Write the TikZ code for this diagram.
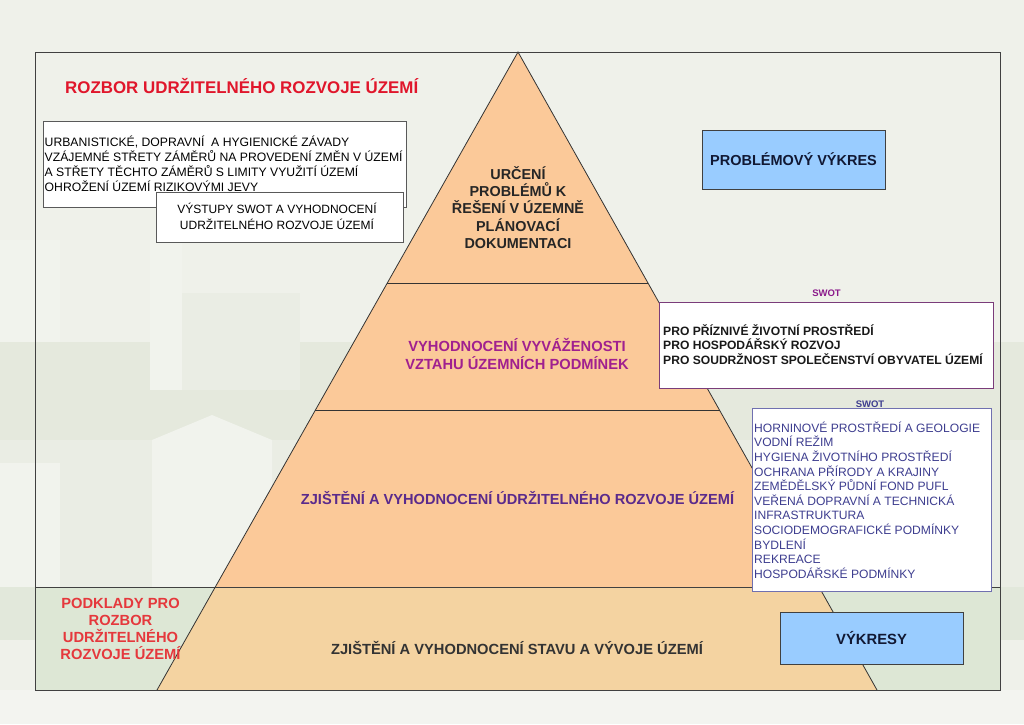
\documentclass[tikz,border=0pt]{standalone}
\usepackage{fontspec}
\setmainfont{Liberation Sans}
\definecolor{bg}{HTML}{EFF1EA}
\definecolor{bggreen}{HTML}{E5E9DD}
\definecolor{bglight}{HTML}{F1F3ED}
\definecolor{bgmid}{HTML}{EAEDE4}
\definecolor{bandout}{HTML}{E2E8DB}
\definecolor{bandin}{HTML}{DDE7D5}
\definecolor{bgbottom}{HTML}{F3F4F0}
\definecolor{pyrtop}{HTML}{FBC999}
\definecolor{pyrbot}{HTML}{F4D3A1}
\definecolor{framec}{HTML}{404040}
\definecolor{titlered}{HTML}{E0162B}
\definecolor{podred}{HTML}{E5383C}
\definecolor{midpurple}{HTML}{A0208F}
\definecolor{bigpurple}{HTML}{5A2A8C}
\definecolor{swotA}{HTML}{8B1A8B}
\definecolor{swotAb}{HTML}{7A3C7A}
\definecolor{swotB}{HTML}{3D3D8F}
\definecolor{swotBb}{HTML}{7070B0}
\definecolor{bluebox}{HTML}{99CCFF}
\definecolor{navytext}{HTML}{111833}
\tikzset{
  frame/.style={draw=framec, line width=0.9pt},
  pyredge/.style={draw=black!80, line width=0.8pt},
  whitebox/.style={draw=gray!70!black, fill=white, line width=0.8pt, inner sep=0pt},
  bluerect/.style={draw=framec, fill=bluebox, line width=1pt, inner sep=0pt,
    font=\fontsize{14.5}{17}\selectfont\bfseries, text=navytext},
  plaintext/.style={inner sep=0pt}
}
\begin{document}
\begin{tikzpicture}[x=1pt,y=-1pt]
\useasboundingbox (0,0) rectangle (1024,724);
% background
\fill[bg] (0,0) rectangle (1024,724);
\fill[bggreen] (0,342) rectangle (1024,440);
\fill[bgmid] (0,440) rectangle (1024,587);
\fill[bglight] (0,240) rectangle (60,342);
\fill[bglight] (150,240) rectangle (182,390);
\fill[bgmid] (182,293) rectangle (300,390);
\fill[bglight] (0,463) rectangle (60,587);
\fill[bglight] (152,600) -- (152,440) -- (212,415) -- (272,440) -- (272,600) -- cycle;
\fill[bandout] (0,587) rectangle (1024,640);
\fill[bgbottom] (0,690) rectangle (1024,724);
\fill[bandin] (35,587) rectangle (1000,690);
% pyramid
\coordinate (apex) at (518,52);
\coordinate (l1) at (387.3,283);  \coordinate (r1) at (648.0,283);
\coordinate (l2) at (315.4,410);  \coordinate (r2) at (719.5,410);
\coordinate (l3) at (215.3,587);  \coordinate (r3) at (819.0,587);
\coordinate (bl) at (157,690);    \coordinate (br) at (877,690);
\fill[pyrtop] (apex) -- (l3) -- (r3) -- cycle;
\fill[pyrbot] (l3) -- (bl) -- (br) -- (r3) -- cycle;
\draw[pyredge] (bl) -- (apex) -- (br);
\draw[pyredge] (l1) -- (r1);
\draw[pyredge] (l2) -- (r2);
% frame
\draw[frame] (35,52) rectangle (1000,690);
\coordinate (fl) at (35,587); \coordinate (fr) at (1000,587);
\draw[frame] (fl) -- (fr);
% title
\node[plaintext, anchor=west, text=titlered, font=\fontsize{16.9}{19}\selectfont\bfseries] (title) at (65,86) {ROZBOR UDRŽITELNÉHO ROZVOJE ÚZEMÍ};
% box 1
\node[whitebox, minimum width=363pt, minimum height=86pt] (box1) at (224.5,164) {};
\node[plaintext, anchor=west, align=left, font=\fontsize{12.2}{15}\selectfont] (box1t) at (44.5,163.5)
  {URBANISTICKÉ, DOPRAVNÍ \ A HYGIENICKÉ ZÁVADY\\VZÁJEMNÉ STŘETY ZÁMĚRŮ NA PROVEDENÍ ZMĚN V ÚZEMÍ\\A STŘETY TĚCHTO ZÁMĚRŮ S LIMITY VYUŽITÍ ÚZEMÍ\\OHROŽENÍ ÚZEMÍ RIZIKOVÝMI JEVY};
% box 2
\node[whitebox, minimum width=247pt, minimum height=50pt] (box2) at (279.5,217) {};
\node[plaintext, align=center, font=\fontsize{12}{16}\selectfont] (box2t) at (277,216.5)
  {VÝSTUPY SWOT A VYHODNOCENÍ\\UDRŽITELNÉHO ROZVOJE ÚZEMÍ};
% pyramid texts
\node[plaintext, align=center, text=black!85, font=\fontsize{14.4}{17.3}\selectfont\bfseries] (t1) at (518,207.5)
  {URČENÍ\\PROBLÉMŮ K\\ŘEŠENÍ V ÚZEMNĚ\\PLÁNOVACÍ\\DOKUMENTACI};
\node[plaintext, align=center, text=midpurple, font=\fontsize{14.7}{18}\selectfont\bfseries] (t2) at (517,354)
  {VYHODNOCENÍ VYVÁŽENOSTI\\VZTAHU ÚZEMNÍCH PODMÍNEK};
\node[plaintext, text=bigpurple, font=\fontsize{14.6}{16}\selectfont\bfseries] (t3) at (517.5,498)
  {ZJIŠTĚNÍ A VYHODNOCENÍ ÚDRŽITELNÉHO ROZVOJE ÚZEMÍ};
\node[plaintext, text=black!80, font=\fontsize{14.7}{16}\selectfont\bfseries] (t4) at (517,648)
  {ZJIŠTĚNÍ A VYHODNOCENÍ STAVU A VÝVOJE ÚZEMÍ};
\node[plaintext, align=center, text=podred, font=\fontsize{14.7}{17}\selectfont\bfseries] (pod) at (120.5,628.5)
  {PODKLADY PRO\\ROZBOR\\UDRŽITELNÉHO\\ROZVOJE ÚZEMÍ};
% blue boxes
\node[bluerect, minimum width=183pt, minimum height=59pt] (prob) at (793.5,159.5) {PROBLÉMOVÝ VÝKRES};
\node[bluerect, minimum width=183pt, minimum height=52pt, font=\fontsize{14.8}{17}\selectfont\bfseries] (vyk) at (871.5,638) {VÝKRESY};
% SWOT 1
\node[plaintext, text=swotA, font=\fontsize{9.5}{10}\selectfont\bfseries] (swot1l) at (826.5,293) {SWOT};
\node[whitebox, draw=swotAb, minimum width=334pt, minimum height=86pt] (swot1) at (826,345) {};
\node[plaintext, anchor=west, align=left, text=black!90, font=\fontsize{12.1}{14.6}\selectfont\bfseries] (swot1t) at (663,344.5)
  {PRO PŘÍZNIVÉ ŽIVOTNÍ PROSTŘEDÍ\\PRO HOSPODÁŘSKÝ ROZVOJ\\PRO SOUDRŽNOST SPOLEČENSTVÍ OBYVATEL ÚZEMÍ};
% SWOT 2
\node[plaintext, text=swotB, font=\fontsize{9.5}{10}\selectfont\bfseries] (swot2l) at (870,404) {SWOT};
\node[whitebox, draw=swotBb, minimum width=239pt, minimum height=183pt] (swot2) at (871.5,499.5) {};
\node[plaintext, anchor=west, align=left, text=swotB, font=\fontsize{12.1}{14.6}\selectfont] (swot2t) at (754,500)
  {HORNINOVÉ PROSTŘEDÍ A GEOLOGIE\\VODNÍ REŽIM\\HYGIENA ŽIVOTNÍHO PROSTŘEDÍ\\OCHRANA PŘÍRODY A KRAJINY\\ZEMĚDĚLSKÝ PŮDNÍ FOND PUFL\\VEŘENÁ DOPRAVNÍ A TECHNICKÁ\\INFRASTRUKTURA\\SOCIODEMOGRAFICKÉ PODMÍNKY\\BYDLENÍ\\REKREACE\\HOSPODÁŘSKÉ PODMÍNKY};
\end{tikzpicture}
\end{document}
